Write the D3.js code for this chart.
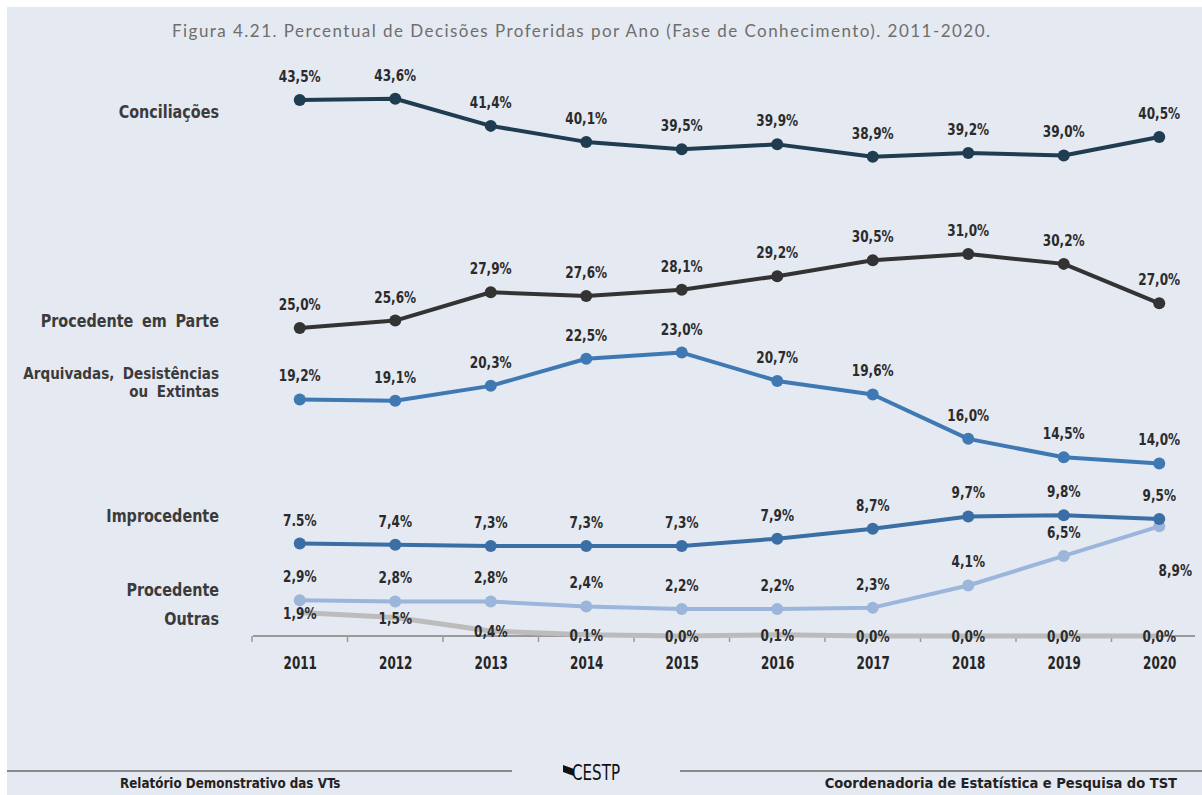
<!DOCTYPE html>
<html>
<head>
<meta charset="utf-8">
<script src="https://cdn.jsdelivr.net/npm/d3@7"></script>
<style>
  body { margin: 0; background: #ffffff; }
  svg { display: block; }
  .cond { font-family: "DejaVu Sans Condensed", "Liberation Sans Narrow", "Roboto", sans-serif; }
</style>
</head>
<body>
<script>
// data
const years = ['2011', '2012', '2013', '2014', '2015', '2016', '2017', '2018', '2019', '2020'];
const conciliacoes = [43.5, 43.6, 41.4, 40.1, 39.5, 39.9, 38.9, 39.2, 39.0, 40.5];
const procedenteEmParte = [25.0, 25.6, 27.9, 27.6, 28.1, 29.2, 30.5, 31.0, 30.2, 27.0];
const arquivadas = [19.2, 19.1, 20.3, 22.5, 23.0, 20.7, 19.6, 16.0, 14.5, 14.0];
const improcedente = [7.5, 7.4, 7.3, 7.3, 7.3, 7.9, 8.7, 9.7, 9.8, 9.5];
const procedente = [2.9, 2.8, 2.8, 2.4, 2.2, 2.2, 2.3, 4.1, 6.5, 8.9];
const outras = [1.9, 1.5, 0.4, 0.1, 0.0, 0.1, 0.0, 0.0, 0.0, 0.0];

const series = [
    { name: ['Conciliações'], values: conciliacoes, color: '#1f3c50', labelY: 112 },
    { name: ['Procedente em Parte'], values: procedenteEmParte, color: '#333333', labelY: 321 },
    { name: ['Arquivadas, Desistências', 'ou Extintas'], values: arquivadas, color: '#3f79b3', labelY: 373 },
    { name: ['Improcedente'], values: improcedente, color: '#3a6ea4', labelY: 516 },
    { name: ['Procedente'], values: procedente, color: '#9bb6da', labelY: 590 },
    { name: ['Outras'], values: outras, color: '#bcbcbc', labelY: 619, noDots: true, centerLabels: true }
];

const width = 1202;
const height = 795;

const svg = d3.select('body')
    .append('svg')
    .attr('width', width)
    .attr('height', height);

// narrow text: draw at origin then squeeze horizontally
function condText(parent, x, y, txt, size, sx, anchor) {
    return parent.append('text')
        .attr('class', 'cond')
        .attr('transform', `translate(${x}, ${y}) scale(${sx}, 1)`)
        .attr('text-anchor', anchor || 'middle')
        .attr('font-size', size)
        .attr('font-weight', 'bold')
        .attr('fill', '#2b2b2b')
        .text(txt);
}

// page background
svg.append('rect')
    .attr('x', 7).attr('y', 7)
    .attr('width', width - 7).attr('height', height - 7)
    .attr('fill', '#e5e9f1');

const xScale = d3.scalePoint()
    .domain(years)
    .range([252, 1207])
    .padding(0.5);

const yScale = d3.scaleLinear()
    .domain([0, 43.5])
    .range([636, 100]);

// title
svg.append('text')
    .attr('x', 581)
    .attr('y', 37)
    .attr('text-anchor', 'middle')
    .attr('font-family', 'Lato, "Open Sans", sans-serif')
    .attr('font-size', 17)
    .attr('fill', '#6e6e6e')
    .attr('textLength', 818)
    .text('Figura 4.21. Percentual de Decisões Proferidas por Ano (Fase de Conhecimento). 2011-2020.');

// x-axis
const xAxis = d3.axisBottom(xScale).tickSize(0).tickFormat('');
const axisG = svg.append('g')
    .attr('transform', 'translate(0, 636)')
    .call(xAxis);
axisG.select('.domain').remove();
axisG.append('line')
    .attr('x1', 253).attr('x2', 1195)
    .attr('stroke', '#9a9a9a').attr('stroke-width', 2);
// small ticks between years
const step = xScale.step();
axisG.selectAll('.sep')
    .data(years)
    .enter()
    .append('line')
    .attr('x1', (d) => xScale(d) - step / 2)
    .attr('x2', (d) => xScale(d) - step / 2)
    .attr('y1', 0).attr('y2', 6)
    .attr('stroke', '#9a9a9a').attr('stroke-width', 1.5);
axisG.selectAll('.tick').each(function (d) {
    condText(d3.select(this), 0, 33, d, 18, 0.74).attr('fill', '#252525');
});

const line = d3.line()
    .x((d, i) => xScale(years[i]))
    .y((d) => yScale(d));

const fmt = (v) => d3.format('.1f')(v).replace('.', ',') + '%';

// draw back to front so the top series sit above
series.slice().reverse().forEach(function (s) {
    const g = svg.append('g');

    g.append('path')
        .datum(s.values)
        .attr('d', line)
        .attr('fill', 'none')
        .attr('stroke', s.color)
        .attr('stroke-width', s.noDots ? 5 : 4)
        .attr('stroke-linejoin', 'round');

    if (!s.noDots) {
        g.selectAll('circle')
            .data(s.values)
            .enter()
            .append('circle')
            .attr('cx', (d, i) => xScale(years[i]))
            .attr('cy', (d) => yScale(d))
            .attr('r', 6)
            .attr('fill', s.color);
    }

    // value labels
    s.values.forEach(function (d, i) {
        let x = xScale(years[i]);
        let y = yScale(d) - 18;
        if (s.centerLabels) y = yScale(d) + 6;
        if (s.name[0] == 'Procedente' && i == 9) { x += 16; y = yScale(d) + 50; }
        const txt = (s.name[0] == 'Improcedente' && i == 0) ? '7.5%' : fmt(d);
        condText(g, x, y, txt, 16, 0.84);
    });

    // series name on the left
    const two = s.name.length > 1;
    s.name.forEach(function (t, k) {
        condText(svg, 219, s.labelY + 6 + k * 18, t, two ? 16 : 17, 0.94, 'end')
            .attr('fill', '#3b3b3b')
            .attr('word-spacing', 4);
    });
});

// footer
svg.append('line')
    .attr('x1', 7).attr('x2', 512)
    .attr('y1', 771).attr('y2', 771)
    .attr('stroke', '#8a8a8a').attr('stroke-width', 2);
svg.append('line')
    .attr('x1', 680).attr('x2', 1202)
    .attr('y1', 771).attr('y2', 771)
    .attr('stroke', '#8a8a8a').attr('stroke-width', 2);
svg.append('path')
    .attr('d', 'M563,765 L574,769 L574,776 L563,772 Z')
    .attr('fill', '#111');
condText(svg, 572, 780, 'CESTP', 21, 0.8, 'start').attr('font-weight', 'normal').attr('fill', '#111');
condText(svg, 120, 788, 'Relatório Demonstrativo das VTs', 14, 0.95, 'start').attr('fill', '#222');
condText(svg, 1177, 788, 'Coordenadoria de Estatística e Pesquisa do TST', 14, 1.04, 'end').attr('fill', '#222');
</script>
</body>
</html>
